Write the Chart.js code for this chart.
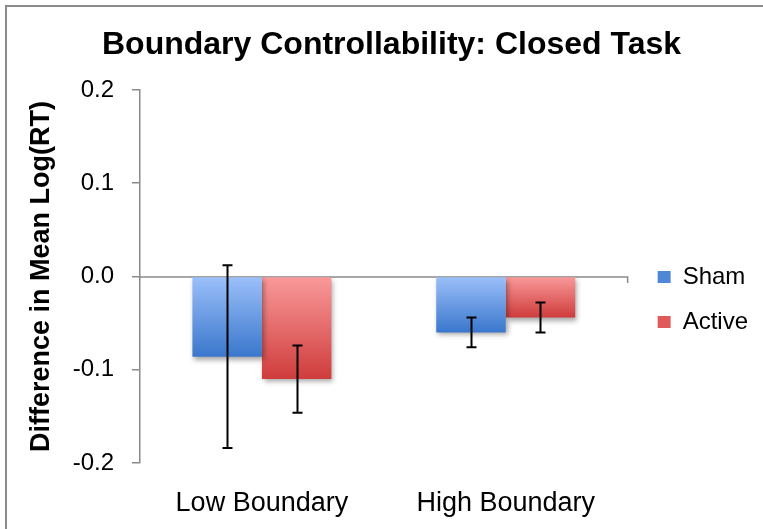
<!DOCTYPE html>
<html>
<head>
<meta charset="utf-8">
<script src="https://cdn.jsdelivr.net/npm/chart.js@4.4.0/dist/chart.umd.min.js"></script>
<style>
  html, body { margin: 0; padding: 0; background: #fff; }
  #wrap { width: 763px; height: 529px; }
</style>
</head>
<body>
<div id="wrap"><canvas id="myChart"></canvas></div>
<script>
// data
const categories = ['Low Boundary', 'High Boundary'];
const seriesNames = ['Sham', 'Active'];
const shamValues = [-0.086, -0.060];
const activeValues = [-0.110, -0.044];
const shamErrors = [0.098, 0.016];
const activeErrors = [0.036, 0.016];
const yTicks = [-0.2, -0.1, 0.0, 0.1, 0.2];

const gradColors = {
  Sham: ['#9cc0fa', '#3a77cc'],
  Active: ['#fa9a9a', '#cf3c3c']
};
const legendColors = { Sham: '#4f86d6', Active: '#e05a5a' };

function barGradient(name){
  return function(context){
    const chart = context.chart;
    const area = chart.chartArea;
    if(!area) return gradColors[name][1];
    const y = chart.scales.y;
    const v = context.raw;
    if(v === undefined) return gradColors[name][1];
    const y0 = y.getPixelForValue(0);
    const y1 = y.getPixelForValue(v);
    if(Math.abs(y1 - y0) < 1) return gradColors[name][0];
    const g = chart.ctx.createLinearGradient(0, y0, 0, y1);
    g.addColorStop(0, gradColors[name][0]);
    g.addColorStop(1, gradColors[name][1]);
    return g;
  };
}

const framePlugin = {
  id: 'frame',
  beforeDraw(chart){
    const ctx = chart.ctx;
    ctx.save();
    ctx.strokeStyle = '#8a8a8a';
    ctx.lineWidth = 2;
    ctx.strokeRect(6, 6, 900, 700);
    ctx.restore();
  }
};

const zeroLinePlugin = {
  id: 'zeroLine',
  beforeDatasetsDraw(chart){
    const ctx = chart.ctx;
    const a = chart.chartArea;
    const y0 = Math.round(chart.scales.y.getPixelForValue(0));
    ctx.save();
    ctx.strokeStyle = '#8a8a8a';
    ctx.lineWidth = 1.5;
    ctx.beginPath();
    ctx.moveTo(a.left, y0);
    ctx.lineTo(a.right, y0);
    ctx.lineTo(a.right, y0 + 6);
    ctx.stroke();
    ctx.restore();
    // bar shadow
    ctx.save();
    ctx.shadowColor = 'rgba(0,0,0,0.35)';
    ctx.shadowBlur = 5;
    ctx.shadowOffsetX = 2;
    ctx.shadowOffsetY = 3;
  },
  afterDatasetsDraw(chart){
    chart.ctx.restore();
  }
};

const errorBarPlugin = {
  id: 'errorBars',
  afterDatasetsDraw(chart){
    const ctx = chart.ctx;
    const y = chart.scales.y;
    const errs = [shamErrors, activeErrors];
    ctx.save();
    ctx.strokeStyle = '#000';
    ctx.lineWidth = 2;
    chart.data.datasets.forEach(function(ds, i){
      const meta = chart.getDatasetMeta(i);
      meta.data.forEach(function(bar, j){
        const v = ds.data[j];
        const top = y.getPixelForValue(v + errs[i][j]);
        const bot = y.getPixelForValue(v - errs[i][j]);
        const x = Math.round(bar.x) + 0.5;
        ctx.beginPath();
        ctx.moveTo(x, top); ctx.lineTo(x, bot);
        ctx.moveTo(x - 5, top); ctx.lineTo(x + 5, top);
        ctx.moveTo(x - 5, bot); ctx.lineTo(x + 5, bot);
        ctx.stroke();
      });
    });
    ctx.restore();
  }
};

const layoutShift = {
  id: 'layoutShift',
  afterLayout(chart){
    const lg = chart.legend;
    lg.top += 35; lg.bottom += 35;
    lg.left += 9; lg.right += 9;
    const tb = chart.titleBlock;
    tb.left += 17; tb.right += 17;
  }
};

const ctx = document.getElementById('myChart');

new Chart(ctx, {
  type: 'bar',
  data: {
    labels: categories,
    datasets: [{
      label: seriesNames[0],
      data: shamValues,
      backgroundColor: barGradient('Sham')
    },{
      label: seriesNames[1],
      data: activeValues,
      backgroundColor: barGradient('Active')
    }]
  },
  options: {
    responsive: true,
    maintainAspectRatio: false,
    animation: false,
    datasets: {
      bar: { categoryPercentage: 0.57, barPercentage: 1.0, borderWidth: 0 }
    },
    layout: { padding: { left: 0, right: 14, top: 0, bottom: 0 } },
    scales: {
      x: {
        afterFit(scale){ scale.height = 66; },
        grid: { display: false },
        border: { display: false },
        ticks: {
          color: '#000',
          padding: 16,
          maxRotation: 0,
          font: { family: 'Liberation Sans', size: 27 }
        }
      },
      y: {
        min: -0.2,
        max: 0.2,
        afterFit(scale){ scale.width = 140; },
        afterBuildTicks(scale){
          scale.ticks = yTicks.map(function(v){ return { value: v }; });
        },
        border: { display: true, color: '#8a8a8a', width: 1.5 },
        grid: { drawOnChartArea: false, tickLength: 8, color: '#8a8a8a', lineWidth: 1.5 },
        ticks: {
          color: '#000',
          padding: 18,
          font: { family: 'Liberation Sans', size: 24 },
          callback: function(v){ return Number(v).toFixed(1); }
        },
        title: {
          display: true,
          text: 'Difference in Mean Log(RT)',
          color: '#000',
          padding: { top: 25, bottom: 0 },
          font: { family: 'Liberation Sans', size: 27, weight: 'bold' }
        }
      }
    },
    plugins: {
      title: {
        display: true,
        text: 'Boundary Controllability: Closed Task',
        color: '#000',
        padding: { top: 26, bottom: 25.6 },
        font: { family: 'Liberation Sans', size: 32, weight: 'bold' }
      },
      legend: {
        position: 'right',
        labels: {
          color: '#000',
          boxWidth: 13,
          boxHeight: 12,
          padding: 21,
          font: { family: 'Liberation Sans', size: 24 },
          generateLabels: function(chart){
            return chart.data.datasets.map(function(ds, i){
              return {
                text: ds.label,
                fillStyle: legendColors[ds.label],
                strokeStyle: legendColors[ds.label],
                lineWidth: 0,
                datasetIndex: i
              };
            });
          }
        }
      },
      tooltip: { enabled: false }
    }
  },
  plugins: [framePlugin, zeroLinePlugin, errorBarPlugin, layoutShift]
});
</script>
</body>
</html>
